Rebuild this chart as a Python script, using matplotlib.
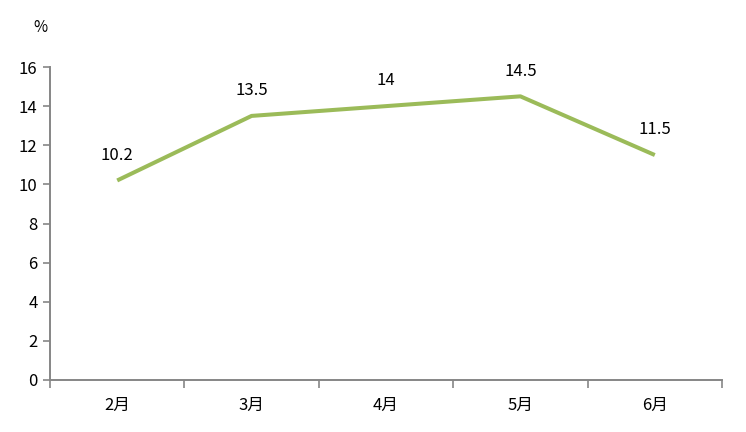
import matplotlib
matplotlib.use("Agg")
import matplotlib.pyplot as plt
import numpy as np

plt.rcParams['font.family'] = ['Noto Sans CJK SC', 'DejaVu Sans']

months = ["2月", "3月", "4月", "5月", "6月"]
values = [10.2, 13.5, 14, 14.5, 11.5]
value_labels = ["10.2", "13.5", "14", "14.5", "11.5"]

fig = plt.figure(figsize=(7.46, 4.32), dpi=100)
ax = fig.add_axes([50 / 746, 52 / 432, 672 / 746, 313 / 432])

x = np.arange(len(months))
ax.plot(x, values, color="#9BBB59", lw=2.9, solid_capstyle="butt")

for xi, v, lab in zip(x, values, value_labels):
    ax.annotate(lab, (xi, v), xytext=(0, 12), textcoords="offset points",
                ha="center", va="bottom", fontsize=12)

ax.set_xlim(-0.5, len(months) - 0.5)
ax.set_ylim(0, 16)
ax.set_yticks(range(0, 17, 2))
ax.set_xticks(np.arange(-0.5, len(months), 1))
ax.set_xticklabels([])
ax.set_xticks(x, minor=True)
ax.set_xticklabels(months, minor=True, fontsize=12)
ax.tick_params(axis="x", which="minor", length=0, pad=12)
ax.tick_params(axis="x", which="major", length=6, width=1.2, color="#868686", direction="out")
ax.tick_params(axis="y", length=5, width=1.2, color="#868686", labelsize=12, pad=4)

for s in ["top", "right"]:
    ax.spines[s].set_visible(False)
for s in ["left", "bottom"]:
    ax.spines[s].set_color("#868686")
    ax.spines[s].set_linewidth(1.4)

fig.text(40 / 746, 1 - 27 / 432, "%", fontsize=11, ha="center", va="center")

fig.savefig("out.png", dpi=100)
